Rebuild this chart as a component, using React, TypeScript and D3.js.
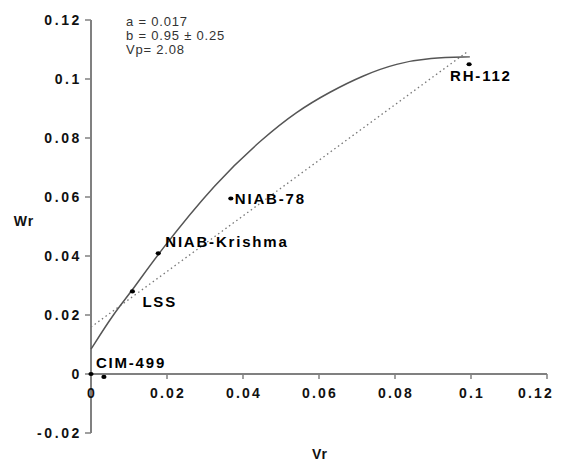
import React from "react";
import * as d3 from "d3";

// Observed genotype points (Vr, Wr)
const genotypes = ["RH-112", "NIAB-78", "NIAB-Krishma", "LSS", "CIM-499", ""];
const vrValues = [0.0995, 0.0368, 0.0177, 0.0109, 0.0034, 0.0];
const wrValues = [0.105, 0.0595, 0.0409, 0.028, -0.001, 0.0];

// Limiting parabola
const curveVr = [0.0, 0.0059, 0.0107, 0.0177, 0.0331, 0.0453, 0.0541, 0.0629, 0.0717, 0.0804, 0.0892, 0.0997];
const curveWr = [0.0084, 0.0204, 0.028, 0.0409, 0.0654, 0.080, 0.089, 0.0957, 0.1013, 0.1053, 0.1072, 0.1075];

// Regression line end points
const regVr = [0.0, 0.099];
const regWr = [0.0159, 0.1092];

const xTicks = [0, 0.02, 0.04, 0.06, 0.08, 0.1, 0.12];
const xTickLabels = ["0", "0.02", "0.04", "0.06", "0.08", "0.1", "0.12"];
const yTicks = [-0.02, 0, 0.02, 0.04, 0.06, 0.08, 0.1, 0.12];
const yTickLabels = ["-0.02", "0", "0.02", "0.04", "0.06", "0.08", "0.1", "0.12"];

const statLines = ["a = 0.017", "b = 0.95 \u00b1 0.25", "Vp= 2.08"];

// label offsets relative to each point (dx, dy) in px
const labelOffsets: [number, number][] = [
  [-19, 17],
  [4, 6],
  [7, -6],
  [10, 16],
  [-8, -9],
  [0, 0],
];

export default function App() {
  const W = 562;
  const H = 462;
  const x = d3.scaleLinear().domain([0, 0.12]).range([91, 547]);
  const y = d3.scaleLinear().domain([-0.02, 0.12]).range([433, 20]);

  const curvePts = curveVr.map((v, i) => [v, curveWr[i]] as [number, number]);
  const curvePath = d3
    .line<[number, number]>()
    .x((d) => x(d[0]))
    .y((d) => y(d[1]))
    .curve(d3.curveBasis)(curvePts) as string;
  const regPts = regVr.map((v, i) => [v, regWr[i]] as [number, number]);
  const regPath = d3
    .line<[number, number]>()
    .x((d) => x(d[0]))
    .y((d) => y(d[1]))(regPts) as string;

  const tickFont: React.CSSProperties = {
    fontFamily: "Arial, 'Liberation Sans', sans-serif",
    fontWeight: "bold",
    fontSize: 14,
    letterSpacing: 2.2,
  };
  const axisColor = "#808080";

  return (
    <svg
      width={W}
      height={H}
      style={{ position: "absolute", left: 0, top: 0, background: "#fff" }}
    >
      {/* y axis */}
      <line x1={x(0)} x2={x(0)} y1={y(0.12)} y2={y(-0.02)} stroke={axisColor} strokeWidth={2} />
      {yTicks.map((t, i) => (
        <g key={"y" + i}>
          <line x1={x(0) - 6} x2={x(0)} y1={y(t)} y2={y(t)} stroke={axisColor} strokeWidth={1.5} />
          <text
            x={x(0) - 9}
            y={y(t)}
            dy="0.36em"
            textAnchor="end"
            fill="#111"
            style={{ ...tickFont, letterSpacing: 2.6 }}
          >
            {yTickLabels[i]}
          </text>
        </g>
      ))}
      {/* x axis */}
      <line x1={x(0)} x2={x(0.12)} y1={y(0)} y2={y(0)} stroke={axisColor} strokeWidth={2} />
      {xTicks.map((t, i) => {
        const cx = Math.min(x(t), 535);
        return (
          <g key={"x" + i}>
            <line x1={x(t)} x2={x(t)} y1={y(0)} y2={y(0) + 5} stroke={axisColor} strokeWidth={1.5} />
            <text
              x={cx + 1}
              y={y(0) + 19}
              dy="0.36em"
              textAnchor="middle"
              fill="#111"
              style={tickFont}
            >
              {xTickLabels[i]}
            </text>
          </g>
        );
      })}

      {/* axis titles */}
      <text x={24} y={221} dy="0.36em" textAnchor="middle" fill="#111" style={{ ...tickFont, letterSpacing: 1 }}>
        Wr
      </text>
      <text x={320} y={454} dy="0.36em" textAnchor="middle" fill="#111" style={{ ...tickFont, letterSpacing: 1 }}>
        Vr
      </text>

      {/* regression line */}
      <path d={regPath} fill="none" stroke="#777" strokeWidth={1.3} strokeDasharray="1.5,3" />
      {/* parabola */}
      <path d={curvePath} fill="none" stroke="#555" strokeWidth={1.5} />

      {/* points */}
      {vrValues.map((v, i) => (
        <ellipse key={"p" + i} cx={x(v)} cy={y(wrValues[i])} rx={2.6} ry={2.1} fill="#000" />
      ))}
      {genotypes.map((g, i) =>
        g ? (
          <text
            key={"l" + i}
            x={x(vrValues[i]) + labelOffsets[i][0]}
            y={y(wrValues[i]) + labelOffsets[i][1]}
            fill="#000"
            style={{ ...tickFont, fontSize: 15, letterSpacing: 1.8 }}
          >
            {g}
          </text>
        ) : null
      )}

      {/* stats */}
      {statLines.map((s, i) => (
        <text
          key={"s" + i}
          x={126}
          y={26 + i * 14}
          fill="#333"
          style={{ fontFamily: "Arial, 'Liberation Sans', sans-serif", fontSize: 13, letterSpacing: 0.8 }}
        >
          {s}
        </text>
      ))}
    </svg>
  );
}
